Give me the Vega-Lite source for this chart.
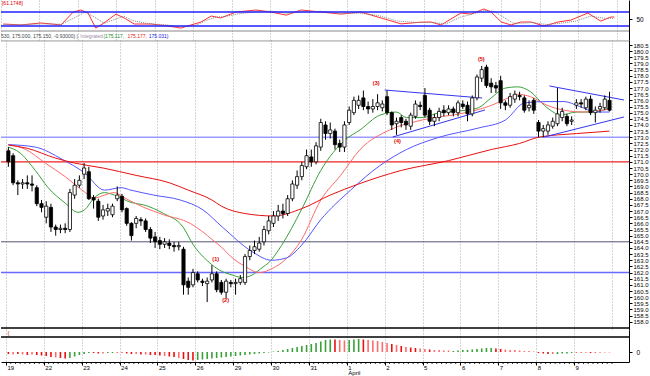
{
"$schema":"https://vega.github.io/schema/vega-lite/v6.json",
"padding":0,"spacing":0,"bounds":"flush","background":"white",
"config":{"view":{"stroke":null},"axis":{"labelFont":"Liberation Sans","labelFontSize":6.5,"labelColor":"#000","titleFontSize":0,"labelOverlap":false,"labelBound":false,"labelFlush":false}},
"datasets":{
"one":[{}],
"candles":[
{"i":0,"o":171.9,"h":172.2,"l":170.6,"c":171.0},{"i":1,"o":171.5,"h":171.7,"l":169.1,"c":169.3},{"i":2,"o":169.3,"h":169.5,"l":168.3,"c":169.2},{"i":3,"o":169.2,"h":169.6,"l":168.8,"c":169.3},{"i":4,"o":169.3,"h":169.9,"l":168.8,"c":169.2},{"i":5,"o":169.2,"h":169.9,"l":168.6,"c":169.1},{"i":6,"o":168.9,"h":169.1,"l":167.4,"c":167.6},{"i":7,"o":167.6,"h":167.9,"l":166.9,"c":167.3},
{"i":8,"o":166.5,"h":167.8,"l":166.0,"c":167.4},{"i":9,"o":167.3,"h":167.6,"l":165.3,"c":165.7},{"i":10,"o":165.7,"h":165.9,"l":165.0,"c":165.5},{"i":11,"o":165.5,"h":165.9,"l":165.2,"c":165.6},{"i":12,"o":165.6,"h":166.0,"l":165.2,"c":165.5},{"i":13,"o":165.5,"h":168.8,"l":165.3,"c":168.5},{"i":14,"o":168.3,"h":169.6,"l":168.0,"c":169.1},{"i":15,"o":169.1,"h":169.9,"l":168.9,"c":169.5},
{"i":16,"o":170.0,"h":170.9,"l":169.6,"c":170.5},{"i":17,"o":170.2,"h":170.6,"l":167.9,"c":168.0},{"i":18,"o":168.1,"h":168.3,"l":167.2,"c":167.9},{"i":19,"o":167.8,"h":168.0,"l":166.2,"c":166.5},{"i":20,"o":166.6,"h":167.5,"l":166.3,"c":167.1},{"i":21,"o":167.0,"h":167.6,"l":166.6,"c":167.2},{"i":22,"o":166.7,"h":167.6,"l":166.5,"c":167.4},{"i":23,"o":168.0,"h":169.0,"l":167.8,"c":168.3},
{"i":24,"o":168.2,"h":168.4,"l":166.9,"c":167.1},{"i":25,"o":167.2,"h":167.3,"l":165.8,"c":166.0},{"i":26,"o":166.0,"h":166.1,"l":164.6,"c":165.0},{"i":27,"o":166.0,"h":166.6,"l":165.6,"c":166.4},{"i":28,"o":166.3,"h":166.5,"l":165.8,"c":166.2},{"i":29,"o":166.2,"h":166.4,"l":165.3,"c":165.5},{"i":30,"o":165.5,"h":165.7,"l":164.4,"c":164.8},{"i":31,"o":164.9,"h":165.3,"l":164.0,"c":164.5},
{"i":32,"o":164.6,"h":164.9,"l":163.9,"c":164.3},{"i":33,"o":164.3,"h":164.8,"l":164.0,"c":164.5},{"i":34,"o":164.4,"h":164.7,"l":163.9,"c":164.2},{"i":35,"o":164.2,"h":164.5,"l":163.7,"c":164.1},{"i":36,"o":164.1,"h":164.5,"l":163.8,"c":164.2},{"i":37,"o":163.9,"h":164.1,"l":160.2,"c":161.0},{"i":38,"o":161.3,"h":161.6,"l":160.2,"c":160.8},{"i":39,"o":161.0,"h":162.3,"l":160.8,"c":162.0},
{"i":40,"o":161.9,"h":162.1,"l":161.2,"c":161.4},{"i":41,"o":161.3,"h":161.5,"l":160.9,"c":161.2},{"i":42,"o":161.1,"h":161.6,"l":159.6,"c":161.3},{"i":43,"o":161.4,"h":162.6,"l":161.2,"c":161.9},{"i":44,"o":161.9,"h":162.1,"l":160.4,"c":160.6},{"i":45,"o":161.2,"h":161.4,"l":160.2,"c":160.4},{"i":46,"o":160.4,"h":161.5,"l":159.9,"c":161.3},{"i":47,"o":161.2,"h":161.4,"l":160.8,"c":161.1},
{"i":48,"o":161.1,"h":161.5,"l":160.2,"c":161.2},{"i":49,"o":161.2,"h":161.8,"l":161.0,"c":161.5},{"i":50,"o":161.2,"h":163.5,"l":161.0,"c":163.3},{"i":51,"o":163.3,"h":164.2,"l":163.0,"c":163.8},{"i":52,"o":163.8,"h":164.6,"l":163.5,"c":164.1},{"i":53,"o":163.9,"h":164.9,"l":163.7,"c":164.4},{"i":54,"o":164.5,"h":165.8,"l":164.2,"c":165.5},{"i":55,"o":165.4,"h":166.6,"l":165.1,"c":166.2},
{"i":56,"o":166.0,"h":167.0,"l":165.7,"c":166.6},{"i":57,"o":166.6,"h":167.5,"l":166.2,"c":167.0},{"i":58,"o":167.0,"h":167.6,"l":166.4,"c":166.8},{"i":59,"o":166.8,"h":168.3,"l":166.6,"c":168.0},{"i":60,"o":168.0,"h":169.5,"l":167.8,"c":169.2},{"i":61,"o":169.1,"h":170.3,"l":168.8,"c":169.8},{"i":62,"o":169.8,"h":171.0,"l":169.5,"c":170.7},{"i":63,"o":170.6,"h":172.0,"l":170.4,"c":171.5},
{"i":64,"o":171.4,"h":172.0,"l":170.6,"c":171.0},{"i":65,"o":171.0,"h":172.6,"l":170.8,"c":172.3},{"i":66,"o":172.2,"h":174.5,"l":171.9,"c":174.2},{"i":67,"o":174.0,"h":174.3,"l":172.8,"c":173.3},{"i":68,"o":173.3,"h":174.2,"l":172.9,"c":173.6},{"i":69,"o":173.5,"h":173.7,"l":172.0,"c":172.4},{"i":70,"o":172.5,"h":172.8,"l":171.8,"c":172.2},{"i":71,"o":172.2,"h":174.3,"l":171.8,"c":174.0},
{"i":72,"o":174.2,"h":175.5,"l":174.0,"c":175.2},{"i":73,"o":175.0,"h":176.3,"l":174.8,"c":176.0},{"i":74,"o":175.6,"h":176.4,"l":175.3,"c":176.0},{"i":75,"o":176.2,"h":176.8,"l":175.2,"c":175.5},{"i":76,"o":175.5,"h":175.9,"l":174.9,"c":175.3},{"i":77,"o":175.3,"h":176.1,"l":175.0,"c":175.5},{"i":78,"o":175.5,"h":176.5,"l":175.2,"c":175.8},{"i":79,"o":175.4,"h":176.0,"l":175.1,"c":175.7},
{"i":80,"o":176.3,"h":176.8,"l":174.8,"c":175.0},{"i":81,"o":175.0,"h":175.1,"l":173.6,"c":174.0},{"i":82,"o":174.1,"h":174.6,"l":173.2,"c":174.3},{"i":83,"o":174.6,"h":174.8,"l":173.8,"c":174.2},{"i":84,"o":174.3,"h":174.5,"l":173.6,"c":174.0},{"i":85,"o":173.9,"h":175.0,"l":173.6,"c":174.8},{"i":86,"o":174.7,"h":176.0,"l":174.5,"c":175.7},{"i":87,"o":175.6,"h":175.9,"l":175.2,"c":175.5},
{"i":88,"o":176.4,"h":177.0,"l":174.6,"c":174.8},{"i":89,"o":175.2,"h":175.4,"l":174.0,"c":174.3},{"i":90,"o":174.3,"h":174.9,"l":173.9,"c":174.6},{"i":91,"o":174.6,"h":175.4,"l":174.3,"c":175.1},{"i":92,"o":175.2,"h":175.6,"l":174.7,"c":175.0},{"i":93,"o":175.0,"h":175.6,"l":174.8,"c":175.3},{"i":94,"o":175.3,"h":175.5,"l":174.7,"c":175.0},{"i":95,"o":175.0,"h":176.0,"l":174.7,"c":175.8},
{"i":96,"o":175.7,"h":176.0,"l":175.3,"c":175.5},{"i":97,"o":175.6,"h":175.9,"l":174.3,"c":174.9},{"i":98,"o":174.9,"h":176.4,"l":174.7,"c":176.2},{"i":99,"o":176.2,"h":178.1,"l":176.0,"c":177.9},{"i":100,"o":177.8,"h":178.8,"l":177.5,"c":178.5},{"i":101,"o":178.7,"h":178.9,"l":177.0,"c":177.2},{"i":102,"o":177.4,"h":177.8,"l":176.6,"c":177.1},{"i":103,"o":177.2,"h":177.5,"l":176.6,"c":177.0},
{"i":104,"o":177.6,"h":178.0,"l":175.3,"c":175.8},{"i":105,"o":175.8,"h":176.0,"l":175.2,"c":175.6},{"i":106,"o":175.6,"h":176.6,"l":175.4,"c":176.3},{"i":107,"o":176.1,"h":176.8,"l":175.8,"c":176.5},{"i":108,"o":176.4,"h":176.7,"l":176.0,"c":176.3},{"i":109,"o":176.2,"h":176.4,"l":175.0,"c":175.2},{"i":110,"o":175.4,"h":176.0,"l":175.1,"c":175.6},{"i":111,"o":176.0,"h":176.2,"l":174.9,"c":175.2},
{"i":112,"o":174.2,"h":174.4,"l":173.0,"c":173.5},{"i":113,"o":173.5,"h":174.0,"l":173.0,"c":173.7},{"i":114,"o":173.5,"h":174.3,"l":173.2,"c":174.0},{"i":115,"o":173.9,"h":174.6,"l":173.7,"c":174.3},{"i":116,"o":174.1,"h":177.0,"l":173.9,"c":174.9},{"i":117,"o":174.6,"h":175.4,"l":174.3,"c":175.1},{"i":118,"o":174.7,"h":174.9,"l":173.9,"c":174.1},{"i":119,"o":174.3,"h":174.7,"l":174.0,"c":174.4},
{"i":120,"o":175.6,"h":176.1,"l":175.3,"c":175.8},{"i":121,"o":175.8,"h":176.1,"l":175.4,"c":175.7},{"i":122,"o":175.4,"h":176.3,"l":175.2,"c":176.1},{"i":123,"o":176.1,"h":176.4,"l":174.8,"c":175.0},{"i":124,"o":175.0,"h":175.5,"l":174.2,"c":175.2},{"i":125,"o":175.3,"h":175.8,"l":175.0,"c":175.5},{"i":126,"o":175.4,"h":176.4,"l":175.2,"c":176.1},{"i":127,"o":176.0,"h":176.7,"l":175.1,"c":175.2}
],
"ma":[
{"s":"g","i":0,"v":172.2},{"s":"g","i":2.2,"v":171.8},{"s":"g","i":5.7,"v":170.3},{"s":"g","i":8.4,"v":168.9},{"s":"g","i":12,"v":167.65},{"s":"g","i":14.7,"v":166.9},{"s":"g","i":16.1,"v":167.1},{"s":"g","i":18.2,"v":168.1},{"s":"g","i":20.3,"v":168.5},{"s":"g","i":22.4,"v":168.3},{"s":"g","i":25.9,"v":167.7},{"s":"g","i":28.6,"v":167.5},{"s":"g","i":32.8,"v":166.8},{"s":"g","i":36.9,"v":165.7},{"s":"g","i":39,"v":164.3},{"s":"g","i":42.5,"v":162.8},{"s":"g","i":44.6,"v":162.2},{"s":"g","i":47.3,"v":161.8},{"s":"g","i":49.4,"v":161.6},{"s":"g","i":51.5,"v":161.8},{"s":"g","i":53.6,"v":162.4},{"s":"g","i":55,"v":162.8},{"s":"g","i":57.7,"v":164.2},{"s":"g","i":61.9,"v":167.1},{"s":"g","i":66,"v":170.3},{"s":"g","i":71.2,"v":172.8},{"s":"g","i":74.3,"v":173.6},{"s":"g","i":78.5,"v":174.8},{"s":"g","i":82,"v":175.05},{"s":"g","i":84.1,"v":174.6},{"s":"g","i":87.4,"v":174.6},{"s":"g","i":91,"v":175.0},{"s":"g","i":96.6,"v":175.2},{"s":"g","i":99.3,"v":175.4},{"s":"g","i":102,"v":176.2},{"s":"g","i":105,"v":177.0},{"s":"g","i":107.6,"v":177.1},{"s":"g","i":110.3,"v":176.7},{"s":"g","i":113.2,"v":175.6},{"s":"g","i":115.3,"v":175.0},{"s":"g","i":116.5,"v":174.8},{"s":"g","i":120.1,"v":175.05},{"s":"g","i":123.6,"v":175.05},{"s":"g","i":127,"v":175.4},
{"s":"p","i":0,"v":172.4},{"s":"p","i":3.7,"v":172.0},{"s":"p","i":7.8,"v":170.9},{"s":"p","i":12,"v":169.8},{"s":"p","i":16.1,"v":168.55},{"s":"p","i":18.2,"v":168.06},{"s":"p","i":20.3,"v":168.3},{"s":"p","i":22.4,"v":168.5},{"s":"p","i":24.4,"v":168.1},{"s":"p","i":28.6,"v":167.3},{"s":"p","i":32.8,"v":166.7},{"s":"p","i":38.4,"v":166.0},{"s":"p","i":41.1,"v":165.3},{"s":"p","i":43,"v":164.7},{"s":"p","i":45.2,"v":164.0},{"s":"p","i":47,"v":163.3},{"s":"p","i":50,"v":162.5},{"s":"p","i":53,"v":162.0},{"s":"p","i":55.6,"v":162.3},{"s":"p","i":61.9,"v":164.65},{"s":"p","i":66,"v":167.9},{"s":"p","i":70.2,"v":169.9},{"s":"p","i":74.3,"v":172.0},{"s":"p","i":80.6,"v":173.6},{"s":"p","i":87.4,"v":174.4},{"s":"p","i":96.6,"v":175.0},{"s":"p","i":101.4,"v":175.5},{"s":"p","i":106.2,"v":176.3},{"s":"p","i":107.5,"v":176.5},{"s":"p","i":110.3,"v":176.3},{"s":"p","i":113.8,"v":175.6},{"s":"p","i":117.4,"v":175.2},{"s":"p","i":121.5,"v":175.05},{"s":"p","i":127,"v":175.3},
{"s":"b","i":0,"v":172.4},{"s":"b","i":5.7,"v":172.2},{"s":"b","i":11.4,"v":171.2},{"s":"b","i":16.1,"v":170.1},{"s":"b","i":20.3,"v":168.7},{"s":"b","i":23.8,"v":168.9},{"s":"b","i":25.9,"v":168.7},{"s":"b","i":30.7,"v":168.3},{"s":"b","i":36.3,"v":167.9},{"s":"b","i":41.1,"v":167.1},{"s":"b","i":45.2,"v":165.7},{"s":"b","i":51.5,"v":163.7},{"s":"b","i":55.6,"v":163.0},{"s":"b","i":58.8,"v":163.2},{"s":"b","i":61.9,"v":164.2},{"s":"b","i":66,"v":166.3},{"s":"b","i":72.3,"v":168.7},{"s":"b","i":78.5,"v":170.7},{"s":"b","i":84.1,"v":172.0},{"s":"b","i":91,"v":173.0},{"s":"b","i":99.3,"v":173.75},{"s":"b","i":105,"v":174.4},{"s":"b","i":109.1,"v":175.8},{"s":"b","i":113.8,"v":175.9},{"s":"b","i":117.4,"v":175.9},{"s":"b","i":120.7,"v":175.5},{"s":"b","i":124.2,"v":175.05},{"s":"b","i":127,"v":175.05},
{"s":"r","i":0,"v":172.37},{"s":"r","i":4,"v":172.1},{"s":"r","i":10,"v":171.3},{"s":"r","i":14,"v":170.9},{"s":"r","i":20,"v":170.5},{"s":"r","i":27,"v":169.9},{"s":"r","i":34,"v":169.3},{"s":"r","i":38,"v":168.7},{"s":"r","i":43,"v":167.9},{"s":"r","i":45,"v":167.4},{"s":"r","i":50,"v":166.8},{"s":"r","i":56,"v":166.6},{"s":"r","i":62,"v":167.2},{"s":"r","i":68,"v":168.3},{"s":"r","i":74,"v":169.2},{"s":"r","i":83,"v":170.3},{"s":"r","i":93,"v":171.1},{"s":"r","i":102,"v":172.0},{"s":"r","i":108,"v":172.5},{"s":"r","i":112,"v":173.0},{"s":"r","i":120,"v":173.3},{"s":"r","i":127,"v":173.5}
],
"trend":[
{"g":"t1","i":79.5,"v":176.84},{"g":"t1","i":100.1,"v":176.19},
{"g":"t2","i":81.2,"v":173.02},{"g":"t2","i":100.7,"v":175.22},
{"g":"t3","i":114.3,"v":177.17},{"g":"t3","i":130.06,"v":176.03},
{"g":"t4","i":113.2,"v":173.02},{"g":"t4","i":130.06,"v":174.65}
],
"notes":[
{"t":"(1)","i":43.8,"v":163.1},{"t":"(2)","i":45.9,"v":159.8},{"t":"(3)","i":77.7,"v":177.4},{"t":"(4)","i":82.2,"v":172.7},{"t":"(5)","i":99.9,"v":179.4}
],
"osc":[
{"s":"k","i":0,"v":35.7},{"s":"k","i":3.7,"v":33},{"s":"k","i":7.8,"v":38.6},{"s":"k","i":12,"v":33},{"s":"k","i":14.5,"v":70},{"s":"k","i":16.1,"v":75.7},{"s":"k","i":17.6,"v":67},{"s":"k","i":19.2,"v":24},{"s":"k","i":20.9,"v":38.6},{"s":"k","i":23.4,"v":64},{"s":"k","i":25.1,"v":53},{"s":"k","i":27.2,"v":35.7},{"s":"k","i":30.7,"v":35.7},{"s":"k","i":34.2,"v":30},{"s":"k","i":36.9,"v":24},{"s":"k","i":39,"v":33},{"s":"k","i":41.1,"v":41.4},{"s":"k","i":43.2,"v":58.6},{"s":"k","i":45.2,"v":53},{"s":"k","i":48.4,"v":70},{"s":"k","i":52.5,"v":75.7},{"s":"k","i":55.6,"v":70},{"s":"k","i":58.8,"v":61},{"s":"k","i":61.9,"v":75.7},{"s":"k","i":66,"v":70},{"s":"k","i":70.2,"v":64},{"s":"k","i":74.3,"v":70},{"s":"k","i":78.5,"v":53},{"s":"k","i":82.7,"v":36},{"s":"k","i":86.8,"v":41},{"s":"k","i":88.9,"v":41.4},{"s":"k","i":91,"v":33},{"s":"k","i":95.1,"v":67},{"s":"k","i":97.2,"v":64},{"s":"k","i":99.9,"v":78.6},{"s":"k","i":101.4,"v":70},{"s":"k","i":103.5,"v":41.4},{"s":"k","i":105.5,"v":33},{"s":"k","i":107.6,"v":41.4},{"s":"k","i":109.7,"v":41.4},{"s":"k","i":112.4,"v":30},{"s":"k","i":115.3,"v":41.4},{"s":"k","i":118,"v":47},{"s":"k","i":121.5,"v":67},{"s":"k","i":124.2,"v":44},{"s":"k","i":126.3,"v":55.7},{"s":"k","i":127,"v":55.7},
{"s":"d","i":0,"v":34},{"s":"d","i":4,"v":34},{"s":"d","i":8,"v":36},{"s":"d","i":12,"v":35},{"s":"d","i":15,"v":55},{"s":"d","i":17,"v":70},{"s":"d","i":19,"v":55},{"s":"d","i":21,"v":38},{"s":"d","i":23,"v":48},{"s":"d","i":25,"v":58},{"s":"d","i":27,"v":45},{"s":"d","i":30,"v":37},{"s":"d","i":34,"v":33},{"s":"d","i":37,"v":28},{"s":"d","i":40,"v":32},{"s":"d","i":42,"v":45},{"s":"d","i":44,"v":55},{"s":"d","i":46,"v":57},{"s":"d","i":49,"v":65},{"s":"d","i":53,"v":72},{"s":"d","i":56,"v":72},{"s":"d","i":59,"v":66},{"s":"d","i":62,"v":70},{"s":"d","i":66,"v":72},{"s":"d","i":70,"v":66},{"s":"d","i":74,"v":67},{"s":"d","i":78,"v":60},{"s":"d","i":82,"v":44},{"s":"d","i":86,"v":40},{"s":"d","i":89,"v":40},{"s":"d","i":92,"v":36},{"s":"d","i":95,"v":55},{"s":"d","i":98,"v":66},{"s":"d","i":100,"v":74},{"s":"d","i":102,"v":72},{"s":"d","i":104,"v":55},{"s":"d","i":106,"v":38},{"s":"d","i":108,"v":38},{"s":"d","i":110,"v":40},{"s":"d","i":113,"v":34},{"s":"d","i":116,"v":38},{"s":"d","i":119,"v":44},{"s":"d","i":122,"v":58},{"s":"d","i":125,"v":52},{"s":"d","i":127,"v":52}
],
"hist":[
{"i":0,"v":-2,"k":"r"},{"i":1,"v":-2.5,"k":"lr"},{"i":2,"v":-2,"k":"r"},{"i":3,"v":-2.5,"k":"lr"},{"i":4,"v":-3,"k":"r"},{"i":5,"v":-2.5,"k":"lr"},{"i":6,"v":-3,"k":"r"},{"i":7,"v":-3.5,"k":"r"},
{"i":8,"v":-4,"k":"r"},{"i":9,"v":-5,"k":"r"},{"i":10,"v":-5.5,"k":"lr"},{"i":11,"v":-6,"k":"r"},{"i":12,"v":-6.5,"k":"r"},{"i":13,"v":-6,"k":"g"},{"i":14,"v":-4.5,"k":"g"},{"i":15,"v":-3,"k":"g"},
{"i":16,"v":-2,"k":"lg"},{"i":17,"v":-1,"k":"lg"},{"i":18,"v":-1,"k":"r"},{"i":19,"v":-1.5,"k":"r"},{"i":20,"v":-1.5,"k":"lr"},{"i":21,"v":-1,"k":"lg"},{"i":22,"v":-1,"k":"lg"},{"i":23,"v":-1,"k":"lr"},
{"i":24,"v":-1,"k":"lr"},{"i":25,"v":-1.5,"k":"r"},{"i":26,"v":-2,"k":"r"},{"i":27,"v":-2,"k":"lr"},{"i":28,"v":-2.5,"k":"r"},{"i":29,"v":-2.5,"k":"lr"},{"i":30,"v":-3,"k":"r"},{"i":31,"v":-3,"k":"r"},
{"i":32,"v":-3.5,"k":"r"},{"i":33,"v":-4,"k":"lr"},{"i":34,"v":-4.5,"k":"r"},{"i":35,"v":-5,"k":"r"},{"i":36,"v":-6,"k":"lr"},{"i":37,"v":-7,"k":"r"},{"i":38,"v":-8,"k":"r"},{"i":39,"v":-8.5,"k":"r"},
{"i":40,"v":-8,"k":"g"},{"i":41,"v":-7.5,"k":"g"},{"i":42,"v":-7,"k":"lg"},{"i":43,"v":-6.5,"k":"g"},{"i":44,"v":-6,"k":"g"},{"i":45,"v":-5.5,"k":"g"},{"i":46,"v":-5,"k":"lg"},{"i":47,"v":-4.5,"k":"g"},
{"i":48,"v":-4,"k":"g"},{"i":49,"v":-3.5,"k":"lg"},{"i":50,"v":-3,"k":"g"},{"i":51,"v":-2.5,"k":"lg"},{"i":52,"v":-2,"k":"g"},{"i":53,"v":-1.5,"k":"lg"},{"i":54,"v":-1,"k":"lg"},{"i":55,"v":-0.5,"k":"lg"},
{"i":56,"v":0.5,"k":"lg"},{"i":57,"v":1,"k":"lg"},{"i":58,"v":2,"k":"lg"},{"i":59,"v":3,"k":"g"},{"i":60,"v":4,"k":"g"},{"i":61,"v":5,"k":"g"},{"i":62,"v":6,"k":"g"},{"i":63,"v":7,"k":"lg"},
{"i":64,"v":8,"k":"g"},{"i":65,"v":9,"k":"lg"},{"i":66,"v":10.5,"k":"g"},{"i":67,"v":12,"k":"g"},{"i":68,"v":12.5,"k":"g"},{"i":69,"v":12.5,"k":"r"},{"i":70,"v":12,"k":"lr"},{"i":71,"v":11.5,"k":"lr"},
{"i":72,"v":12,"k":"lg"},{"i":73,"v":12.5,"k":"g"},{"i":74,"v":13,"k":"g"},{"i":75,"v":12.5,"k":"r"},{"i":76,"v":12,"k":"lr"},{"i":77,"v":11.5,"k":"lr"},{"i":78,"v":11,"k":"lr"},{"i":79,"v":10,"k":"lr"},
{"i":80,"v":9,"k":"lr"},{"i":81,"v":8,"k":"r"},{"i":82,"v":7,"k":"lr"},{"i":83,"v":6,"k":"r"},{"i":84,"v":5,"k":"lr"},{"i":85,"v":4.5,"k":"r"},{"i":86,"v":4,"k":"r"},{"i":87,"v":3.5,"k":"lr"},
{"i":88,"v":3,"k":"lr"},{"i":89,"v":2.5,"k":"r"},{"i":90,"v":2,"k":"lr"},{"i":91,"v":2,"k":"lr"},{"i":92,"v":1.5,"k":"lr"},{"i":93,"v":1.5,"k":"lr"},{"i":94,"v":1,"k":"lg"},{"i":95,"v":1.5,"k":"lg"},
{"i":96,"v":2,"k":"lg"},{"i":97,"v":2,"k":"lg"},{"i":98,"v":2.5,"k":"g"},{"i":99,"v":3,"k":"g"},{"i":100,"v":3.5,"k":"g"},{"i":101,"v":4,"k":"g"},{"i":102,"v":4,"k":"g"},{"i":103,"v":3.5,"k":"r"},
{"i":104,"v":3,"k":"r"},{"i":105,"v":2.5,"k":"lr"},{"i":106,"v":2,"k":"lr"},{"i":107,"v":2,"k":"lr"},{"i":108,"v":1.5,"k":"lr"},{"i":109,"v":1,"k":"lr"},{"i":110,"v":1,"k":"lr"},{"i":111,"v":0.5,"k":"lr"},
{"i":112,"v":-1,"k":"r"},{"i":113,"v":-1.5,"k":"r"},{"i":114,"v":-2,"k":"r"},{"i":115,"v":-2,"k":"lr"},{"i":116,"v":-2,"k":"g"},{"i":117,"v":-1.5,"k":"g"},{"i":118,"v":-1.5,"k":"lg"},{"i":119,"v":-1,"k":"lg"},
{"i":120,"v":-1,"k":"lr"},{"i":121,"v":-1,"k":"lr"},{"i":122,"v":-0.8,"k":"lr"},{"i":123,"v":-1,"k":"r"},{"i":124,"v":-1,"k":"lr"},{"i":125,"v":-0.8,"k":"lr"},{"i":126,"v":-0.5,"k":"lr"},{"i":127,"v":-0.5,"k":"lr"}
]
},
"vconcat":[
{
"width":628,"height":40,
"layer":[
{"data":{"name":"osc"},"mark":{"type":"line","color":"#ff3030","strokeWidth":1,"clip":true},
 "transform":[{"filter":"datum.s=='k'"}],
 "encoding":{
  "x":{"field":"i","type":"quantitative","scale":{"domain":[-0.5,130.06],"nice":false,"zero":false},
   "axis":{"title":null,"values":[-0.5,7.5,15.5,23.5,31.5,39.5,47.5,55.5,63.5,71.5,79.5,87.5,95.5,103.5,111.5,119.5,127.5],"tickCount":200,"grid":true,"gridDash":[1,2],"gridColor":"#aaa","labels":false,"ticks":false,"domain":false}},
  "y":{"field":"v","type":"quantitative","scale":{"domain":[-10,104.3],"nice":false,"zero":false},
   "axis":{"title":null,"orient":"right","values":[50],"tickSize":3,"labelPadding":4,"domainColor":"#000","tickColor":"#000","grid":false}}}},
{"data":{"name":"osc"},"mark":{"type":"line","color":"#888","strokeWidth":1,"strokeDash":[1,1],"clip":true},
 "transform":[{"filter":"datum.s=='d'"}],
 "encoding":{"x":{"field":"i","type":"quantitative","scale":{"domain":[-0.5,130.06],"nice":false,"zero":false}},
  "y":{"field":"v","type":"quantitative","scale":{"domain":[-10,104.3],"nice":false,"zero":false}}}},
{"data":{"name":"one"},"mark":{"type":"rule","color":"#2020ff","strokeWidth":1.5},"encoding":{"y":{"datum":70,"type":"quantitative","scale":{"domain":[-10,104.3],"nice":false,"zero":false}}}},
{"data":{"name":"one"},"mark":{"type":"rule","color":"#2020ff","strokeWidth":1.5},"encoding":{"y":{"datum":30,"type":"quantitative","scale":{"domain":[-10,104.3],"nice":false,"zero":false}}}},
{"data":{"name":"one"},"mark":{"type":"rule","color":"#888","strokeWidth":1},"encoding":{"y":{"datum":15.7,"type":"quantitative","scale":{"domain":[-10,104.3],"nice":false,"zero":false}}}},
{"data":{"name":"one"},"mark":{"type":"text","text":"[61.1748]","color":"#dd0000","fontSize":5,"font":"Liberation Sans","align":"left","baseline":"middle"},
 "encoding":{"x":{"datum":-0.3,"type":"quantitative","scale":{"domain":[-0.5,130.06],"nice":false,"zero":false}},"y":{"datum":95.5,"type":"quantitative","scale":{"domain":[-10,104.3],"nice":false,"zero":false}}}},
{"data":{"name":"one"},"mark":{"type":"text","text":"530, 175.000, 175.150, -0.93000) |","color":"#444","fontSize":5,"font":"Liberation Sans","align":"left","baseline":"middle"},
 "encoding":{"x":{"datum":-0.5,"type":"quantitative","scale":{"domain":[-0.5,130.06],"nice":false,"zero":false}},"y":{"datum":1.4,"type":"quantitative","scale":{"domain":[-10,104.3],"nice":false,"zero":false}}}},
{"data":{"name":"one"},"mark":{"type":"text","text":"Integrated","color":"#9a8aa8","fontSize":5,"font":"Liberation Sans","align":"left","baseline":"middle"},
 "encoding":{"x":{"datum":16.0,"type":"quantitative","scale":{"domain":[-0.5,130.06],"nice":false,"zero":false}},"y":{"datum":1.4,"type":"quantitative","scale":{"domain":[-10,104.3],"nice":false,"zero":false}}}},
{"data":{"name":"one"},"mark":{"type":"text","text":"(175.117,","color":"#1a8a1a","fontSize":5,"font":"Liberation Sans","align":"left","baseline":"middle"},
 "encoding":{"x":{"datum":20.8,"type":"quantitative","scale":{"domain":[-0.5,130.06],"nice":false,"zero":false}},"y":{"datum":1.4,"type":"quantitative","scale":{"domain":[-10,104.3],"nice":false,"zero":false}}}},
{"data":{"name":"one"},"mark":{"type":"text","text":"175.177,","color":"#e02020","fontSize":5,"font":"Liberation Sans","align":"left","baseline":"middle"},
 "encoding":{"x":{"datum":25.8,"type":"quantitative","scale":{"domain":[-0.5,130.06],"nice":false,"zero":false}},"y":{"datum":1.4,"type":"quantitative","scale":{"domain":[-10,104.3],"nice":false,"zero":false}}}},
{"data":{"name":"one"},"mark":{"type":"text","text":"175.031)","color":"#2020e0","fontSize":5,"font":"Liberation Sans","align":"left","baseline":"middle"},
 "encoding":{"x":{"datum":30.2,"type":"quantitative","scale":{"domain":[-0.5,130.06],"nice":false,"zero":false}},"y":{"datum":1.4,"type":"quantitative","scale":{"domain":[-10,104.3],"nice":false,"zero":false}}}}
]
},
{
"width":628,"height":290,
"layer":[
{"data":{"name":"one"},"mark":{"type":"rule","color":"#9a9aff","strokeWidth":1.5},
 "encoding":{
  "y":{"datum":173.0,"type":"quantitative","scale":{"domain":[157.33,180.907],"nice":false,"zero":false},
   "axis":{"title":null,"orient":"right","values":[158,158.5,159,159.5,160,160.5,161,161.5,162,162.5,163,163.5,164,164.5,165,165.5,166,166.5,167,167.5,168,168.5,169,169.5,170,170.5,171,171.5,172,172.5,173,173.5,174,174.5,175,175.5,176,176.5,177,177.5,178,178.5,179,179.5,180,180.5],"tickCount":200,"format":".1f","tickSize":3,"labelPadding":1,"labelFontSize":6,"labelOverlap":false,"labelBound":false,"labelFlush":false,"domainColor":"#000","tickColor":"#000","grid":false}}}},
{"data":{"name":"one"},"mark":{"type":"rule","color":"#ee2020","strokeWidth":1.2},"encoding":{"y":{"datum":171.0,"type":"quantitative","scale":{"domain":[157.33,180.907],"nice":false,"zero":false}}}},
{"data":{"name":"one"},"mark":{"type":"rule","color":"#55557a","strokeWidth":1},"encoding":{"y":{"datum":164.5,"type":"quantitative","scale":{"domain":[157.33,180.907],"nice":false,"zero":false}}}},
{"data":{"name":"one"},"mark":{"type":"rule","color":"#6a6aff","strokeWidth":1.6},"encoding":{"y":{"datum":162.0,"type":"quantitative","scale":{"domain":[157.33,180.907],"nice":false,"zero":false}}}},
{"data":{"name":"one"},"mark":{"type":"rule","color":"#000","strokeWidth":1.5},"encoding":{"y":{"datum":157.49,"type":"quantitative","scale":{"domain":[157.33,180.907],"nice":false,"zero":false}}}},
{"data":{"name":"one"},"mark":{"type":"rule","color":"#999","strokeWidth":1},"encoding":{"y":{"datum":180.83,"type":"quantitative","scale":{"domain":[157.33,180.907],"nice":false,"zero":false}}}},
{"data":{"name":"ma"},"mark":{"type":"line","interpolate":"monotone","clip":true},
 "encoding":{
  "x":{"field":"i","type":"quantitative","scale":{"domain":[-0.5,130.06],"nice":false,"zero":false},
   "axis":{"title":null,"values":[-0.5,7.5,15.5,23.5,31.5,39.5,47.5,55.5,63.5,71.5,79.5,87.5,95.5,103.5,111.5,119.5,127.5],"tickCount":200,"grid":true,"gridDash":[1,2],"gridColor":"#aaa","labels":false,"ticks":false,"domain":false}},
  "y":{"field":"v","type":"quantitative","scale":{"domain":[157.33,180.907],"nice":false,"zero":false}},
  "detail":{"field":"s","type":"nominal"},
  "color":{"field":"s","type":"nominal","scale":{"domain":["g","p","b","r"],"range":["#3aa03a","#ff6a6a","#5555ff","#e81010"]},"legend":null},
  "strokeWidth":{"field":"s","type":"nominal","scale":{"domain":["g","p","b","r"],"range":[1,1,1,2.4]},"legend":null}}},
{"data":{"name":"trend"},"mark":{"type":"line","color":"#3535ee","strokeWidth":1,"clip":true},
 "encoding":{"x":{"field":"i","type":"quantitative","scale":{"domain":[-0.5,130.06],"nice":false,"zero":false}},
  "y":{"field":"v","type":"quantitative","scale":{"domain":[157.33,180.907],"nice":false,"zero":false}},
  "detail":{"field":"g","type":"nominal"}}},
{"data":{"name":"candles"},"mark":{"type":"rule","color":"#000","strokeWidth":1},
 "encoding":{"x":{"field":"i","type":"quantitative","scale":{"domain":[-0.5,130.06],"nice":false,"zero":false}},
  "y":{"field":"l","type":"quantitative","scale":{"domain":[157.33,180.907],"nice":false,"zero":false}},
  "y2":{"field":"h"}}},
{"data":{"name":"candles"},"mark":{"type":"bar","width":3.2,"stroke":"#000","strokeWidth":0.8},
 "encoding":{"x":{"field":"i","type":"quantitative","scale":{"domain":[-0.5,130.06],"nice":false,"zero":false}},
  "y":{"field":"o","type":"quantitative","scale":{"domain":[157.33,180.907],"nice":false,"zero":false}},
  "y2":{"field":"c"},
  "fill":{"condition":{"test":"datum.c>=datum.o","value":"#ffffff"},"value":"#000000"}}},
{"data":{"name":"notes"},"mark":{"type":"text","color":"#dd0000","fontSize":5.5,"fontWeight":"bold","font":"Liberation Sans"},
 "encoding":{"x":{"field":"i","type":"quantitative","scale":{"domain":[-0.5,130.06],"nice":false,"zero":false}},
  "y":{"field":"v","type":"quantitative","scale":{"domain":[157.33,180.907],"nice":false,"zero":false}},
  "text":{"field":"t"}}}
]
},
{
"width":628,"height":32,
"layer":[
{"data":{"name":"hist"},"mark":{"type":"bar","width":1.6},
 "encoding":{
  "x":{"field":"i","type":"quantitative","scale":{"domain":[-0.5,130.06],"nice":false,"zero":false},
   "axis":{"title":null,"orient":"bottom","values":[-0.5,7.5,15.5,23.5,31.5,39.5,47.5,55.5,63.5,71.5,79.5,87.5,95.5,103.5,111.5,119.5],"tickCount":200,
    "grid":true,"gridDash":[1,2],"gridColor":"#aaa","tickSize":3,"tickColor":"#000","domainColor":"#000",
    "labelExpr":"datum.value==71.5 ? ['1','April'] : ['19','22','23','24','25','26','29','30','31','1','2','5','6','7','8','9'][(datum.value+0.5)/8]",
    "labelAlign":"left","labelBaseline":"top","labelOffset":1,"labelPadding":-1,"labelFontSize":6,"labelLineHeight":5.5,"labelOverlap":false,"labelFlush":false,"labelBound":false}},
  "y":{"field":"v","type":"quantitative","scale":{"domain":[-10,22],"nice":false,"zero":false},
   "axis":{"title":null,"orient":"right","values":[0],"tickSize":3,"labelPadding":4,"domainColor":"#000","tickColor":"#000","grid":false}},
  "y2":{"datum":0},
  "color":{"field":"k","type":"nominal","scale":{"domain":["g","lg","r","lr"],"range":["#2e9e2e","#8fd08f","#ff2020","#ff9a9a"]},"legend":null}}},
{"data":{"name":"hist"},"mark":{"type":"rule","color":"#000","strokeWidth":0.8,"xOffset":2.4},
 "encoding":{"x":{"field":"i","type":"quantitative","scale":{"domain":[-0.5,130.06],"nice":false,"zero":false}},
  "y":{"datum":-10,"type":"quantitative","scale":{"domain":[-10,22],"nice":false,"zero":false}},
  "y2":{"datum":-12}}},
{"data":{"name":"one"},"mark":{"type":"rule","color":"#000","strokeWidth":1.5},"encoding":{"y":{"datum":15,"type":"quantitative","scale":{"domain":[-10,22],"nice":false,"zero":false}}}},
{"data":{"name":"one"},"mark":{"type":"text","text":"(","color":"#dd0000","fontSize":6,"align":"left","baseline":"middle"},
 "encoding":{"x":{"datum":-0.2,"type":"quantitative","scale":{"domain":[-0.5,130.06],"nice":false,"zero":false}},"y":{"datum":19,"type":"quantitative","scale":{"domain":[-10,22],"nice":false,"zero":false}}}}
]
}
]
}
